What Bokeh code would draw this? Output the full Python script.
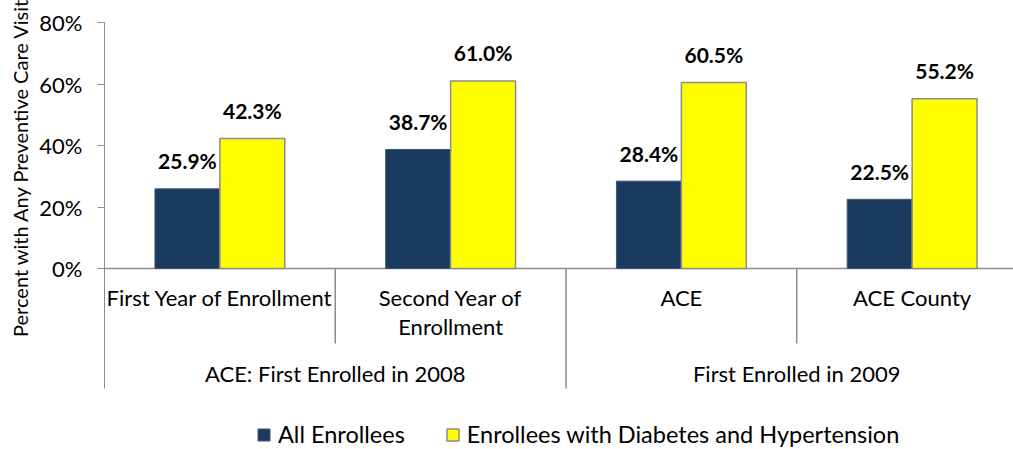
from bokeh.plotting import figure
from bokeh.models import (ColumnDataSource, FixedTicker, Title, Legend, LegendItem,
                          CustomJSTickFormatter, Range1d)
from bokeh.core.properties import value
from bokeh.embed import file_html
from bokeh.resources import INLINE

# ---- data ----
categories = ["First Year of Enrollment", "Second Year of\nEnrollment", "ACE", "ACE County"]
groups = ["ACE: First Enrolled in 2008", "First Enrolled in 2009"]
group_sizes = [2, 2]
all_enrollees = [25.9, 38.7, 28.4, 22.5]
diab_hyper = [42.3, 61.0, 60.5, 55.2]
y_ticks = [0, 20, 40, 60, 80]
series_names = ["All Enrollees", "Enrollees with Diabetes and Hypertension"]

FONT = "Lato"
NAVY = "#1b3a5f"
YELLOW = "#ffff00"
GRAY = "#8c8c8c"

PX_PER_CAT = 231.0
PX_PER_UNIT = 3.075
W, H = 1013, 449
LEFT, TOP = 103, 22
frame_w = W - LEFT
frame_h = H - TOP
y_top = 80.0
y_bot = y_top - frame_h / PX_PER_UNIT
axis_bottom = -120 / PX_PER_UNIT   # bottom of the two-level axis
inner_bottom = -75 / PX_PER_UNIT   # bottom of first-level separators

p = figure(width=W, height=H, output_backend="svg", toolbar_location=None,
           x_range=Range1d(0, frame_w / PX_PER_CAT), y_range=Range1d(y_bot, y_top),
           x_axis_location=None, min_border_left=LEFT, min_border_top=TOP,
           min_border_right=0, min_border_bottom=0)
p.outline_line_color = None
p.xgrid.visible = False
p.ygrid.visible = False
p.background_fill_color = "white"
p.border_fill_color = "white"

ya = p.yaxis[0]
ya.ticker = FixedTicker(ticks=y_ticks)
ya.formatter = CustomJSTickFormatter(code="return tick.toFixed(0) + '%';")
ya.bounds = (axis_bottom, y_top)
ya.axis_line_color = GRAY
ya.axis_line_width = 1
ya.major_tick_line_color = GRAY
ya.major_tick_out = 7
ya.major_tick_in = 0
ya.minor_tick_line_color = None
ya.major_label_standoff = 15
ya.major_label_text_font = FONT
ya.major_label_text_font_size = "22px"
ya.major_label_text_color = "black"

n = len(categories)
centers = [i + 0.5 for i in range(n)]
bw = 65 / PX_PER_CAT
x_all = [c - bw / 2 for c in centers]
x_dh = [c + bw / 2 for c in centers]

# x axis line
p.segment(x0=[0], y0=[0], x1=[frame_w / PX_PER_CAT], y1=[0], line_color=GRAY, line_width=1.5)

src_a = ColumnDataSource(dict(x=x_all, top=all_enrollees,
                              lbl=[f"{v:.1f}%" for v in all_enrollees]))
src_d = ColumnDataSource(dict(x=x_dh, top=diab_hyper,
                              lbl=[f"{v:.1f}%" for v in diab_hyper]))
r_a = p.vbar(x="x", top="top", bottom=0, width=bw, source=src_a,
             fill_color=NAVY, line_color="#3d5675", line_width=1)
r_d = p.vbar(x="x", top="top", bottom=0, width=bw, source=src_d,
             fill_color=YELLOW, line_color=GRAY, line_width=1.5)

for src in (src_a, src_d):
    p.text(x="x", y="top", text="lbl", source=src, text_font=value(FONT),
           text_font_style="bold", text_font_size="21px", text_align="center",
           text_baseline="alphabetic", y_offset=-28, text_color="black")

# separators of the two-level axis
group_edges = []
acc = 0
for s in group_sizes:
    acc += s
    group_edges.append(acc)
sx, sy0, sy1 = [], [], []
for b in range(1, n + 1):
    sx.append(b)
    sy0.append(0)
    sy1.append(axis_bottom if b in group_edges else inner_bottom)
p.segment(x0=sx, y0=sy0, x1=sx, y1=sy1, line_color=GRAY, line_width=1.5)

# first-level labels
lx, ly_off, lt = [], [], []
for c, cat in zip(centers, categories):
    for k, line in enumerate(cat.split("\n")):
        lx.append(c)
        ly_off.append(29 + 28.5 * k)
        lt.append(line)
src_l = ColumnDataSource(dict(x=lx, y=[0] * len(lx), off=ly_off, t=lt))
p.text(x="x", y="y", text="t", y_offset="off", source=src_l, text_font=value(FONT),
       text_font_size="22px", text_align="center", text_baseline="alphabetic",
       text_color="black")

# second-level labels
gx = []
start = 0
for s in group_sizes:
    gx.append(start + s / 2)
    start += s
src_g = ColumnDataSource(dict(x=gx, y=[0] * len(gx), t=groups))
p.text(x="x", y="y", text="t", y_offset=105, source=src_g, text_font=value(FONT),
       text_font_size="22px", text_align="center", text_baseline="alphabetic",
       text_color="black")

# y axis title
p.add_layout(Title(text="Percent with Any Preventive Care Visit", align="right",
                   offset=-25, text_font=FONT, text_font_size="20px",
                   text_font_style="normal", text_color="black"), "left")

legend = Legend(items=[LegendItem(label=series_names[0], renderers=[r_a]),
                       LegendItem(label=series_names[1], renderers=[r_d])],
                location=(152, 1), orientation="horizontal",
                glyph_width=15, glyph_height=15, label_standoff=7, spacing=40,
                padding=0, margin=0, border_line_color=None,
                background_fill_alpha=0, label_text_font=FONT,
                label_text_font_size="23.5px", label_text_color="black")
p.add_layout(legend)

open("out.html", "w").write(file_html(p, INLINE))
